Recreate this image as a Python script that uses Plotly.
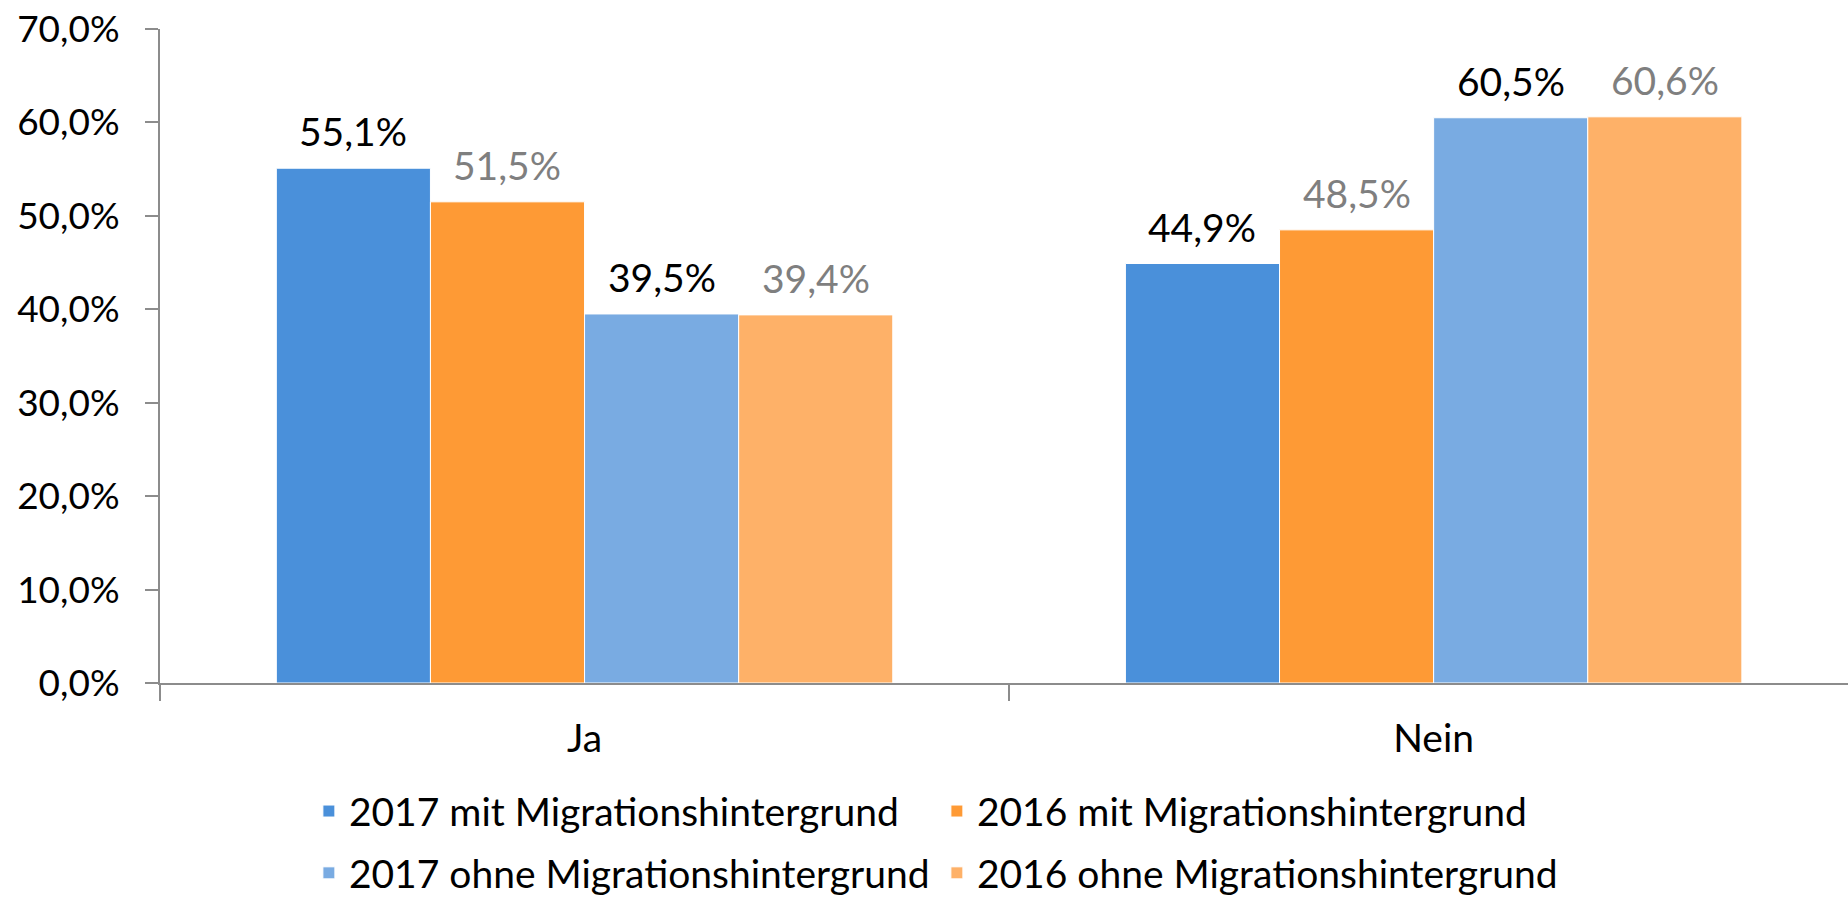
import plotly.graph_objects as go

categories = ["Ja", "Nein"]
series_names = [
    "2017 mit Migrationshintergrund",
    "2016 mit Migrationshintergrund",
    "2017 ohne Migrationshintergrund",
    "2016 ohne Migrationshintergrund",
]
mit_2017 = [55.1, 44.9]
mit_2016 = [51.5, 48.5]
ohne_2017 = [39.5, 60.5]
ohne_2016 = [39.4, 60.6]
tick_vals = [0, 10, 20, 30, 40, 50, 60, 70]
tick_text = ["0,0%", "10,0%", "20,0%", "30,0%", "40,0%", "50,0%", "60,0%", "70,0%"]

values = [mit_2017, mit_2016, ohne_2017, ohne_2016]
colors = ["#4A90DA", "#FE9A35", "#79ABE2", "#FEB168"]
label_colors = ["#000000", "#7F7F7F", "#000000", "#7F7F7F"]
legends = ["legend", "legend", "legend2", "legend2"]

FONT = "Lato"
FS = 39
FS_TICK = 37
BARGAP = 0.274

fig = go.Figure()
n = len(values)
bw = (1 - BARGAP) / n
for j, (name, vals, col, lc, lg) in enumerate(zip(series_names, values, colors, label_colors, legends)):
    fig.add_trace(go.Bar(
        x=categories, y=vals, name=name,
        marker=dict(color=col, line=dict(color="white", width=1)),
        cliponaxis=False, legend=lg,
    ))
    off = -(1 - BARGAP) / 2 + (j + 0.5) * bw
    for i, v in enumerate(vals):
        fig.add_annotation(
            x=i + off, y=v, xref="x", yref="y",
            text=f"{v:.1f}%".replace(".", ","),
            showarrow=False, yanchor="bottom", yshift=12,
            font=dict(family=FONT, size=FS, color=lc),
        )

fig.update_layout(
    width=1848, height=899,
    margin=dict(l=160, r=0, t=29, b=216, autoexpand=False),
    paper_bgcolor="white", plot_bgcolor="white",
    barmode="group", bargap=BARGAP, bargroupgap=0,
    separators=",.",
    font=dict(family=FONT, size=FS, color="#000000"),
    showlegend=True,
    legend=dict(orientation="h", x=0.0882, xanchor="left", y=-0.196, yanchor="middle",
                entrywidth=583, entrywidthmode="pixels",
                font=dict(family=FONT, size=FS, color="#000000"), bgcolor="rgba(0,0,0,0)"),
    legend2=dict(orientation="h", x=0.0882, xanchor="left", y=-0.2905, yanchor="middle",
                 entrywidth=583, entrywidthmode="pixels",
                 font=dict(family=FONT, size=FS, color="#000000"), bgcolor="rgba(0,0,0,0)"),
)
fig.update_xaxes(
    range=[-0.5, 1.488], showline=True, linecolor="#8C8C8C", linewidth=2,
    ticks="outside", tickson="boundaries", ticklen=16, tickwidth=2, tickcolor="#8C8C8C",
    showgrid=False, zeroline=False, ticklabelstandoff=20, automargin=False,
    tickfont=dict(family=FONT, size=FS, color="#000000"),
)
fig.update_yaxes(
    range=[0, 70], tickmode="array", tickvals=tick_vals, ticktext=tick_text,
    showline=True, linecolor="#8C8C8C", linewidth=2,
    ticks="outside", ticklen=13, tickwidth=2, tickcolor="#8C8C8C",
    showgrid=False, zeroline=False, ticklabelstandoff=18, automargin=False,
    tickfont=dict(family=FONT, size=FS_TICK, color="#000000"),
)

fig.write_html("out.html", config={"displayModeBar": False},
               post_script="document.body.style.margin='0px';")
